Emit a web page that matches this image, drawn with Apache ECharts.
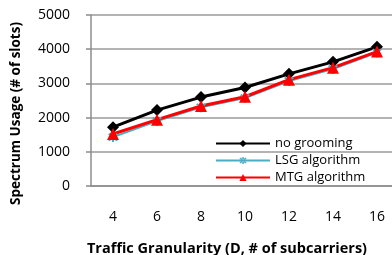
<!DOCTYPE html>
<html>
<head>
<meta charset="utf-8">
<script src="https://cdn.jsdelivr.net/npm/echarts@6/dist/echarts.min.js"></script>
<style>
  html, body { margin: 0; padding: 0; background: #fff; }
  #main { width: 392px; height: 255px; }
</style>
</head>
<body>
<div id="main"></div>
<script>
var chartDom = document.getElementById('main');
var myChart = echarts.init(chartDom);

// traffic granularity values on x axis
const granularity = ['4', '6', '8', '10', '12', '14', '16'];
// spectrum usage
const noGrooming = [1720, 2220, 2600, 2880, 3280, 3630, 4070];
const lsgAlgorithm = [1430, 1900, 2300, 2570, 3070, 3420, 3900];
const mtgAlgorithm = [1520, 1940, 2340, 2610, 3110, 3460, 3930];

const font = 'Open Sans';
// asterisk marker like the excel "star" one
const starPath = 'path://M-0.18,-1L0.18,-1L0.18,1L-0.18,1Z' +
  'M0.58,0.834L0.834,0.58L-0.58,-0.834L-0.834,-0.58Z' +
  'M-0.834,0.58L-0.58,0.834L0.834,-0.58L0.58,-0.834Z';

var option = {
  animation: false,
  textStyle: { fontFamily: font },
  grid: {
    left: 91,
    right: -7,
    top: 15,
    bottom: 69,
    outerBoundsMode: 'none',
  },
  legend: {
    orient: 'vertical',
    left: 210,
    top: 132,
    itemWidth: 54,
    itemHeight: 9,
    itemGap: 4,
    textStyle: { fontSize: 13, color: '#000', fontFamily: font },
    data: ['no grooming', 'LSG algorithm', 'MTG algorithm'],
  },
  xAxis: {
    type: 'category',
    data: granularity,
    boundaryGap: true,
    name: 'Traffic Granularity (D, # of subcarriers)',
    nameLocation: 'center',
    nameGap: 55,
    nameTextStyle: {
      fontSize: 14.5,
      fontWeight: 'bold',
      color: '#000',
      fontFamily: font,
      padding: [0, 36, 0, 0],
    },
    axisLine: { lineStyle: { color: '#8c8c8c', width: 1.5 } },
    axisTick: { length: 5, lineStyle: { color: '#8c8c8c', width: 1.5 } },
    axisLabel: { fontSize: 14, color: '#000', margin: 24 },
  },
  yAxis: {
    type: 'value',
    min: 0,
    max: 5000,
    interval: 1000,
    name: 'Spectrum Usage (# of slots)',
    nameLocation: 'center',
    nameGap: 68,
    nameTextStyle: {
      fontSize: 13.5,
      fontWeight: 'bold',
      color: '#000',
      fontFamily: font,
      padding: [0, 26, 0, 0],
    },
    axisLine: { show: true, lineStyle: { color: '#8c8c8c', width: 1.5 } },
    axisTick: { show: true, length: 5, lineStyle: { color: '#8c8c8c', width: 1.5 } },
    axisLabel: {
      fontSize: 14,
      color: '#000',
      margin: 21,
      formatter: function (v) { return String(v); },
    },
    splitLine: { lineStyle: { color: '#9a9a9a', width: 1.5 } },
  },
  series: [
    {
      name: 'no grooming',
      type: 'line',
      data: noGrooming,
      symbol: 'diamond',
      symbolSize: 12,
      lineStyle: { color: '#000', width: 3 },
      itemStyle: { color: '#000' },
    },
    {
      name: 'LSG algorithm',
      type: 'line',
      data: lsgAlgorithm,
      symbol: starPath,
      symbolSize: 10,
      lineStyle: { color: '#4bacc6', width: 2 },
      itemStyle: { color: '#4bacc6' },
    },
    {
      name: 'MTG algorithm',
      type: 'line',
      data: mtgAlgorithm,
      symbol: 'triangle',
      symbolSize: 12,
      lineStyle: { color: '#ff0000', width: 3 },
      itemStyle: { color: '#ff0000' },
    },
  ],
};

option && myChart.setOption(option);
</script>
</body>
</html>
